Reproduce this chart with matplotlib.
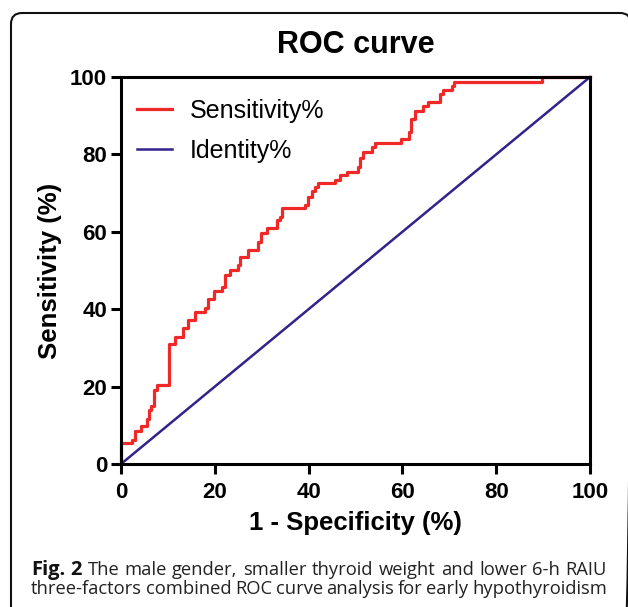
"""ROC curve figure with caption and rounded frame."""

import matplotlib

matplotlib.use("Agg")
import matplotlib.patches as mpatches
import matplotlib.pyplot as plt

matplotlib.rcParams["font.family"] = ["Liberation Sans", "DejaVu Sans"]

# 1 - specificity (%) where the curve steps up, and the sensitivity (%) it reaches
fpr = [0, 0, 2.3, 3.0, 4.3, 5.5, 6.0, 6.5, 7.1, 7.6, 10.3, 11.5, 13.3, 14.2,
       15.8, 17.9, 18.5, 19.9, 21.6, 22.2, 23.2, 24.9, 25.4, 27.1, 29.3, 29.9,
       31.1, 33.3, 33.9, 34.4, 39.2, 39.9, 40.7, 41.4, 42.1, 45.6, 46.7, 48.1,
       50.6, 51.0, 51.7, 53.5, 54.2, 59.6, 61.5, 61.8, 62.7, 64.3, 65.5, 68.0,
       68.6, 70.5, 71.0, 89.7, 100]
tpr = [0, 5.4, 6.2, 8.6, 9.8, 11.6, 14.0, 15.1, 19.1, 20.3, 31.0, 32.9, 35.1,
       37.2, 39.4, 40.2, 42.6, 44.8, 45.8, 48.8, 50.1, 51.4, 53.6, 55.3, 57.4,
       59.6, 60.9, 63.0, 63.9, 66.1, 66.9, 69.1, 70.6, 71.7, 72.5, 73.4, 74.7,
       75.5, 76.8, 79.0, 80.7, 82.0, 83.0, 83.9, 85.9, 89.1, 91.3, 92.5, 93.5,
       95.6, 96.6, 97.7, 98.8, 100, 100]
identity = [0, 100]
ticks = [0, 20, 40, 60, 80, 100]

W, H = 628, 607
fig = plt.figure(figsize=(W / 100, H / 100), dpi=100)

# frame in pixel coordinates
bg = fig.add_axes([0, 0, 1, 1])
bg.set_xlim(0, W)
bg.set_ylim(H, 0)
bg.axis("off")
frame = mpatches.FancyBboxPatch(
    (11, 13), 620, 700,
    boxstyle="round,pad=0,rounding_size=11",
    linewidth=1.5, edgecolor="#111111", facecolor="none",
)
bg.add_patch(frame)

ax = fig.add_axes([121 / W, 1 - 464 / H, 469 / W, 387 / H])
ax.plot(fpr, tpr, drawstyle="steps-post", color="#F02828", lw=2.3,
        label="Sensitivity%", clip_on=False, zorder=2)
ax.plot(identity, identity, color="#33218C", lw=1.8, label="Identity%",
        clip_on=False, zorder=3)
ax.set_xlim(0, 100)
ax.set_ylim(0, 100)
ax.set_xticks(ticks)
ax.set_yticks(ticks)
for s in ax.spines.values():
    s.set_linewidth(2.2)
    s.set_zorder(4)
ax.tick_params(width=2.2, length=7, labelsize=16, pad=3)
ax.tick_params(axis="x", pad=6)
for lab in ax.get_xticklabels() + ax.get_yticklabels():
    lab.set_fontweight("bold")

ax.set_xlabel("1 - Specificity (%)", fontsize=18.5, fontweight="bold", labelpad=6)
ax.set_ylabel("Sensitivity (%)", fontsize=18.5, fontweight="bold", labelpad=6)
ax.set_title("ROC curve", fontsize=22, fontweight="bold", pad=17)

ax.legend(loc="upper left", frameon=False, fontsize=18, handlelength=1.4,
          handletextpad=0.7, labelspacing=0.65, borderaxespad=0, borderpad=0,
          bbox_to_anchor=(16 / 469, 0.944))

# caption, justified between x=31 and x=607
cap_font = ["Open Sans", "DejaVu Sans"]
r = fig.canvas.get_renderer()


def justified(words, y, x0=31, x1=607, size=13.2, first_bold=0):
    items = []
    for i, w in enumerate(words):
        bold = i < first_bold
        t = bg.text(0, y, w, fontsize=14.5 if bold else size,
                    fontweight="bold" if bold else "normal",
                    family=cap_font, va="baseline",
                    color="#111111" if bold else "#222222")
        items.append(t)
    widths = [t.get_window_extent(r).width for t in items]
    gap = (x1 - x0 - sum(widths)) / (len(items) - 1)
    x = x0
    for t, w in zip(items, widths):
        t.set_x(x)
        x += w + gap


justified("Fig. 2 The male gender, smaller thyroid weight and lower 6-h RAIU".split(),
          575, first_bold=2)
justified("three-factors combined ROC curve analysis for early hypothyroidism".split(),
          594)

fig.savefig("out.png", dpi=100, facecolor="white")
